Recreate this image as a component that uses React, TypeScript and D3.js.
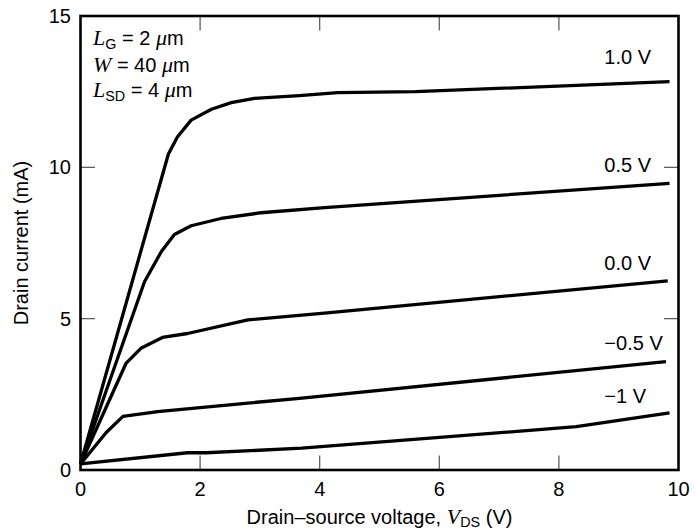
import React from "react";
import * as d3 from "d3";

const W = 697;
const H = 531;

const gateLabels = ["1.0 V", "0.5 V", "0.0 V", "\u22120.5 V", "\u22121 V"];
const labelValueY = [13.4, 9.85, 6.6, 3.95, 2.2];
const labelValueX = 8.76;

const curveP10: [number, number][] = [[0, 0.2], [1.47, 10.44], [1.62, 11.0], [1.85, 11.56], [2.19, 11.92], [2.52, 12.14], [2.91, 12.28], [3.66, 12.37], [4.3, 12.47], [5.6, 12.5], [9.85, 12.83]];
const curveP05: [number, number][] = [[0, 0.2], [1.07, 6.22], [1.35, 7.21], [1.57, 7.78], [1.85, 8.07], [2.35, 8.31], [3.02, 8.5], [4.08, 8.67], [9.85, 9.47]];
const curveP00: [number, number][] = [[0, 0.2], [0.76, 3.52], [1.01, 4.02], [1.37, 4.38], [1.79, 4.51], [2.8, 4.96], [4.08, 5.18], [9.82, 6.25]];
const curveM05: [number, number][] = [[0, 0.2], [0.43, 1.24], [0.71, 1.77], [1.29, 1.93], [3.66, 2.37], [9.79, 3.58]];
const curveM10: [number, number][] = [[0, 0.2], [1.79, 0.57], [2.1, 0.57], [3.7, 0.72], [8.29, 1.43], [9.85, 1.89]];

const series = [curveP10, curveP05, curveP00, curveM05, curveM10];

const xTicks = [0, 2, 4, 6, 8, 10];
const yTicks = [0, 5, 10, 15];

const SANS = "'Liberation Sans', Arial, Helvetica, sans-serif";
const SERIF = "'Liberation Serif', 'Times New Roman', serif";

export default function App() {
  const x = d3.scaleLinear().domain([0, 10]).range([80.5, 678.5]);
  const y = d3.scaleLinear().domain([0, 15]).range([470, 16]);
  const line = d3
    .line<[number, number]>()
    .x((d) => x(d[0]))
    .y((d) => y(d[1]));

  const fs = 20;
  const tickLen = 14.5;
  const tickColor = "#555";

  return (
    <svg
      width={W}
      height={H}
      style={{ position: "fixed", left: 0, top: 0, background: "#fff" }}
      fontFamily={SANS}
    >
      <rect x={0} y={0} width={W} height={H} fill="#fff" />
      {/* ticks */}
      {xTicks.slice(1, -1).map((t) => (
        <g key={"xt" + t}>
          <line x1={x(t)} x2={x(t)} y1={y(0)} y2={y(0) - tickLen} stroke={tickColor} strokeWidth={1.2} />
          <line x1={x(t)} x2={x(t)} y1={y(15)} y2={y(15) + tickLen} stroke={tickColor} strokeWidth={1.2} />
        </g>
      ))}
      {yTicks.slice(1, -1).map((t) => (
        <g key={"yt" + t}>
          <line x1={x(0)} x2={x(0) + tickLen} y1={y(t)} y2={y(t)} stroke={tickColor} strokeWidth={1.2} />
          <line x1={x(10)} x2={x(10) - tickLen} y1={y(t)} y2={y(t)} stroke={tickColor} strokeWidth={1.2} />
        </g>
      ))}
      {/* curves */}
      {series.map((s, i) => (
        <path key={"c" + i} d={line(s) || ""} fill="none" stroke="#000" strokeWidth={3.3} strokeLinejoin="round" />
      ))}
      {/* frame */}
      <rect x={x(0)} y={y(15)} width={x(10) - x(0)} height={y(0) - y(15)} fill="none" stroke="#000" strokeWidth={2.6} />
      {/* tick labels */}
      {xTicks.map((t) => (
        <text key={"xl" + t} x={x(t)} y={496} fontSize={fs} textAnchor="middle" fill="#000">
          {t}
        </text>
      ))}
      {yTicks.map((t) => (
        <text key={"yl" + t} x={71} y={y(t) + 7} fontSize={fs} textAnchor="end" fill="#000">
          {t}
        </text>
      ))}
      {/* curve labels */}
      {gateLabels.map((l, i) => (
        <text key={"gl" + i} x={x(labelValueX)} y={y(labelValueY[i])} fontSize={fs} fill="#000">
          {l}
        </text>
      ))}
      {/* axis titles */}
      <text
        transform={`translate(28, ${(y(0) + y(15)) / 2}) rotate(-90)`}
        textAnchor="middle"
        fontSize={fs}
        fill="#000"
      >
        Drain current (mA)
      </text>
      <text x={x(5)} y={524} textAnchor="middle" fontSize={fs} fill="#000">
        <tspan>{"Drain\u2013source voltage, "}</tspan>
        <tspan fontFamily={SERIF} fontStyle="italic" fontSize={fs + 2}>V</tspan>
        <tspan fontSize={fs * 0.72} dy={3}>DS</tspan>
        <tspan dy={-3}>{" (V)"}</tspan>
      </text>
      {/* parameters */}
      <text x={93} y={45} fontSize={fs} fill="#000">
        <tspan fontFamily={SERIF} fontStyle="italic" fontSize={fs + 2}>L</tspan>
        <tspan fontSize={fs * 0.72} dy={4}>G</tspan>
        <tspan dy={-4}>{" = 2 "}</tspan>
        <tspan fontFamily={SERIF} fontStyle="italic" fontSize={fs + 2}>{"\u03bc"}</tspan>
        <tspan>m</tspan>
      </text>
      <text x={93} y={72} fontSize={fs} fill="#000">
        <tspan fontFamily={SERIF} fontStyle="italic" fontSize={fs + 2}>W</tspan>
        <tspan>{" = 40 "}</tspan>
        <tspan fontFamily={SERIF} fontStyle="italic" fontSize={fs + 2}>{"\u03bc"}</tspan>
        <tspan>m</tspan>
      </text>
      <text x={93} y={97} fontSize={fs} fill="#000">
        <tspan fontFamily={SERIF} fontStyle="italic" fontSize={fs + 2}>L</tspan>
        <tspan fontSize={fs * 0.72} dy={4}>SD</tspan>
        <tspan dy={-4}>{" = 4 "}</tspan>
        <tspan fontFamily={SERIF} fontStyle="italic" fontSize={fs + 2}>{"\u03bc"}</tspan>
        <tspan>m</tspan>
      </text>
    </svg>
  );
}
